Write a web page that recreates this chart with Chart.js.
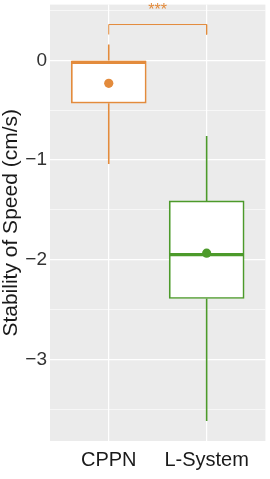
<!DOCTYPE html>
<html>
<head>
<meta charset="utf-8">
<script src="https://cdn.jsdelivr.net/npm/chart.js@4/dist/chart.umd.min.js"></script>
<style>
html,body{margin:0;padding:0;background:#fff;}
#wrap{width:270px;height:479px;position:relative;}
</style>
</head>
<body>
<div id="wrap"><canvas id="c" width="270" height="479"></canvas></div>
<script>
// ---- data ----
const categories = ['CPPN', 'L-System'];
const whiskerHigh = [0.16, -0.76];
const q3 = [0.0, -1.41];
const median = [-0.02, -1.95];
const q1 = [-0.43, -2.39];
const whiskerLow = [-1.04, -3.62];
const means = [-0.23, -1.935];
const yTickValues = [0.5, 0, -0.5, -1, -1.5, -2, -2.5, -3, -3.5];
const yRange = [-3.82, 0.56];
const xRange = [0.4, 2.6];
const bracket = {from: 1, to: 2, y: 0.36, tip: 0.26, label: '***', labelY: 0.46};

const colors = ['#E38B3C', '#4C9A2A'];
const boxHalf = 0.38;

const datasets = [];
// boxes (floating bars)
datasets.push({
  type: 'bar',
  data: categories.map((c, i) => ({x: i + 1, y: [q1[i], q3[i]]})),
  backgroundColor: '#ffffff',
  borderColor: colors,
  borderWidth: 1.7,
  borderSkipped: false,
  barThickness: 75,
  order: 10
});
categories.forEach((c, i) => {
  datasets.push({type: 'line', data: [{x: i + 1, y: q3[i]}, {x: i + 1, y: whiskerHigh[i]}],
    borderColor: colors[i], borderWidth: 1.6, pointRadius: 0, order: 11});
  datasets.push({type: 'line', data: [{x: i + 1, y: q1[i]}, {x: i + 1, y: whiskerLow[i]}],
    borderColor: colors[i], borderWidth: 1.6, pointRadius: 0, order: 11});
  datasets.push({type: 'line', data: [{x: i + 1 - boxHalf, y: median[i]}, {x: i + 1 + boxHalf, y: median[i]}],
    borderColor: colors[i], borderWidth: 3.2, pointRadius: 0, order: 2});
  datasets.push({type: 'scatter', data: [{x: i + 1, y: means[i]}],
    backgroundColor: colors[i], borderColor: colors[i], pointRadius: 4.6, pointBorderWidth: 0, order: 1});
});
datasets.push({type: 'line', data: [
  {x: bracket.from, y: bracket.tip}, {x: bracket.from, y: bracket.y},
  {x: bracket.to, y: bracket.y}, {x: bracket.to, y: bracket.tip}],
  borderColor: colors[0], borderWidth: 1, pointRadius: 0, order: 3});

const panelBg = {
  id: 'panelBg',
  beforeDraw(chart) {
    const {ctx, chartArea: a} = chart;
    ctx.save();
    ctx.fillStyle = '#EBEBEB';
    ctx.fillRect(a.left, a.top, a.right - a.left, a.bottom - a.top);
    ctx.restore();
  }
};
const sigLabel = {
  id: 'sigLabel',
  afterDatasetsDraw(chart) {
    const {ctx, scales: {x, y}} = chart;
    ctx.save();
    ctx.fillStyle = colors[0];
    ctx.font = '16px "Liberation Sans", Arial, sans-serif';
    ctx.textAlign = 'center';
    ctx.textBaseline = 'alphabetic';
    ctx.fillText(bracket.label, x.getPixelForValue((bracket.from + bracket.to) / 2), y.getPixelForValue(bracket.labelY));
    ctx.restore();
  }
};

const fmt = v => (v < 0 ? '\u2212' + Math.abs(v) : String(v));

new Chart(document.getElementById('c'), {
  type: 'bar',
  data: {datasets},
  plugins: [panelBg, sigLabel],
  options: {
    responsive: false,
    animation: false,
    events: [],
    layout: {padding: {left: 0, right: 4, top: 3, bottom: 0}},
    plugins: {legend: {display: false}, tooltip: {enabled: false}},
    scales: {
      x: {
        type: 'linear',
        offset: false,
        min: xRange[0], max: xRange[1],
        afterBuildTicks: s => { s.ticks = categories.map((c, i) => ({value: i + 1})); },
        afterFit: s => { s.height = 38; s.paddingLeft = 0; s.paddingRight = 0; },
        grid: {color: '#ffffff', lineWidth: 1.2, drawTicks: false, offset: false},
        border: {display: false},
        ticks: {
          padding: 7,
          color: '#1a1a1a',
          font: {family: '"Liberation Sans", Arial, sans-serif', size: 20},
          maxRotation: 0,
          autoSkip: false,
          callback: v => categories[v - 1] ?? ''
        }
      },
      y: {
        type: 'linear',
        min: yRange[0], max: yRange[1],
        afterBuildTicks: s => { s.ticks = yTickValues.map(v => ({value: v})); },
        afterFit: s => { s.width = 50; s.paddingTop = 0; s.paddingBottom = 0; },
        grid: {
          color: '#ffffff',
          lineWidth: ctx => (Number.isInteger(ctx.tick && ctx.tick.value) ? 1.2 : 0.6),
          drawTicks: false
        },
        border: {display: false},
        ticks: {
          padding: 3,
          color: '#333333',
          font: {family: '"Liberation Sans", Arial, sans-serif', size: 19},
          autoSkip: false,
          callback: v => (Number.isInteger(v) ? fmt(v) : '')
        },
        title: {
          display: true,
          text: 'Stability of Speed (cm/s)',
          color: '#1a1a1a',
          font: {family: '"Liberation Sans", Arial, sans-serif', size: 21, lineHeight: 1.0},
          padding: {top: 1, bottom: 0}
        }
      }
    }
  }
});
</script>
</body>
</html>
